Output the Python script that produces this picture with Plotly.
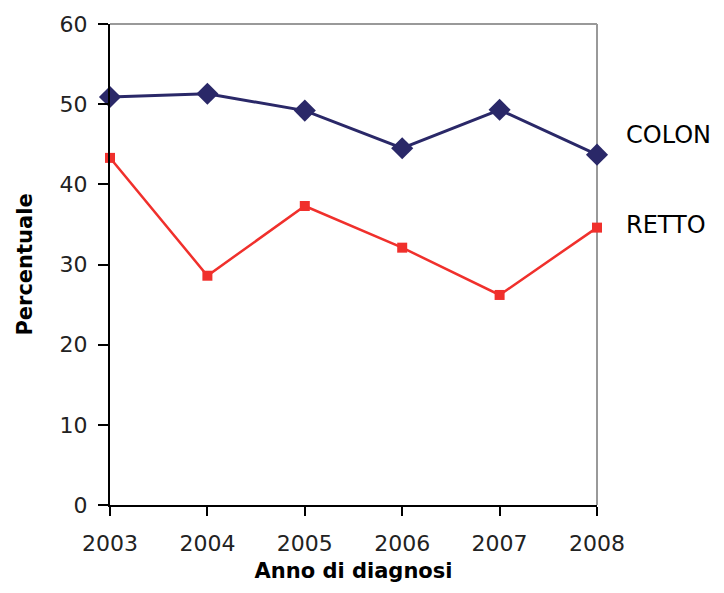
import plotly.graph_objects as go

years = [2003, 2004, 2005, 2006, 2007, 2008]
colon = [50.9, 51.3, 49.2, 44.5, 49.3, 43.7]
retto = [43.3, 28.6, 37.3, 32.1, 26.2, 34.6]
y_ticks = [0, 10, 20, 30, 40, 50, 60]

FONT = "DejaVu Sans, Liberation Sans, Arial"

fig = go.Figure()
fig.add_trace(go.Scatter(x=years, y=colon, mode="lines+markers", name="COLON",
                         line=dict(color="#2A2868", width=3),
                         marker=dict(symbol="diamond", size=17, color="#2A2868"),
                         cliponaxis=False))
fig.add_trace(go.Scatter(x=years, y=retto, mode="lines+markers", name="RETTO",
                         line=dict(color="#F0302C", width=2.5),
                         marker=dict(symbol="square", size=10, color="#F0302C"),
                         cliponaxis=False))

fig.add_annotation(x=1.055, y=colon[-1] + 2.5, xref="paper", yref="y", text="COLON",
                   showarrow=False, xanchor="left",
                   font=dict(family=FONT, size=24, color="#000"))
fig.add_annotation(x=1.055, y=retto[-1] + 0.3, xref="paper", yref="y", text="RETTO",
                   showarrow=False, xanchor="left",
                   font=dict(family=FONT, size=24, color="#000"))

fig.update_layout(
    width=724, height=593,
    margin=dict(l=110, r=127, t=21, b=88),
    paper_bgcolor="white", plot_bgcolor="white",
    showlegend=False,
    font=dict(family=FONT, size=22, color="#222"),
    xaxis=dict(range=[2003, 2008], tickvals=years, ticktext=[str(y) for y in years],
               showgrid=False, zeroline=False, showline=True, linecolor="#000", linewidth=2,
               ticks="outside", ticklen=9, tickwidth=2, tickcolor="#000",
               tickfont=dict(family=FONT, size=22, color="#222"),
               ticklabelstandoff=9,
               title=dict(text="<b>Anno di diagnosi</b>", standoff=8,
                          font=dict(family=FONT, size=21, color="#000"))),
    yaxis=dict(range=[0, 60], tickvals=y_ticks,
               showgrid=False, zeroline=False, showline=True, linecolor="#000", linewidth=2,
               ticks="outside", ticklen=10, tickwidth=2, tickcolor="#000",
               tickfont=dict(family=FONT, size=22, color="#222"),
               ticklabelstandoff=6,
               title=dict(text="<b>Percentuale</b>", standoff=21,
                          font=dict(family=FONT, size=21, color="#000"))),
)
# gray top and right frame
fig.add_shape(type="line", xref="paper", yref="paper", x0=0, x1=1, y0=1, y1=1,
              line=dict(color="#999", width=2), layer="below")
fig.add_shape(type="line", xref="paper", yref="paper", x0=1, x1=1, y0=0, y1=1,
              line=dict(color="#999", width=2), layer="below")

fig.write_html("out.html")
